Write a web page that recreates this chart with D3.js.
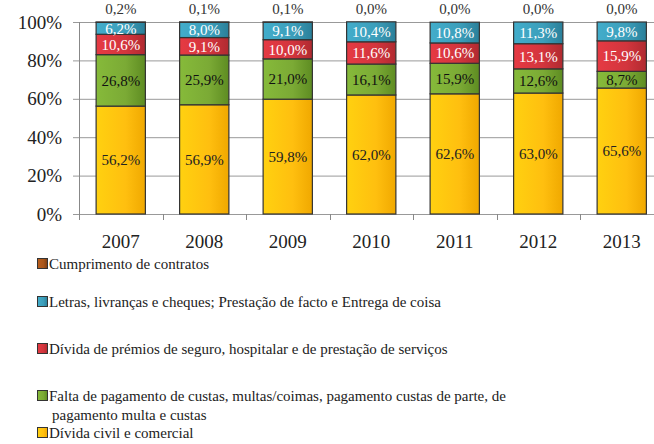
<!DOCTYPE html>
<html>
<head>
<meta charset="utf-8">
<script src="https://cdn.jsdelivr.net/npm/d3@7"></script>
<style>
  body { margin: 0; background: #fff; }
</style>
</head>
<body>
<div id="chart"></div>
<script>
// Stacked 100% bars: process types by year
const years = ["2007", "2008", "2009", "2010", "2011", "2012", "2013"];
const dividaCivil = [56.2, 56.9, 59.8, 62.0, 62.6, 63.0, 65.6];
const faltaPagamento = [26.8, 25.9, 21.0, 16.1, 15.9, 12.6, 8.7];
const dividaPremios = [10.6, 9.1, 10.0, 11.6, 10.6, 13.1, 15.9];
const letras = [6.2, 8.0, 9.1, 10.4, 10.8, 11.3, 9.8];
const cumprimento = [0.2, 0.1, 0.1, 0.0, 0.0, 0.0, 0.0];
const yTicks = [0, 20, 40, 60, 80, 100];

// legend lines (wrapped like the original), top to bottom
const legendLines = [
    ["Cumprimento de contratos"],
    ["Letras, livranças e cheques; Prestação de facto e Entrega de coisa"],
    ["Dívida de prémios de seguro, hospitalar e de prestação de serviços"],
    ["Falta de pagamento de custas,  multas/coimas, pagamento custas de parte, de", "pagamento multa e custas"],
    ["Dívida civil e comercial"]
];

function createChart() {
    const W = 654, H = 444;
    const margin = { top: 22, left: 79 };
    const plotH = 192;
    const bandW = 83.5;
    const FONT = "'Liberation Serif'";

    const svg = d3.select("#chart").append("svg")
        .attr("width", W)
        .attr("height", H)
        .style("font-family", FONT);

    const colors = ["#FFBF0F", "#7BAA35", "#D2353D", "#3C9EBA", "#A9561A"];
    const darker = ["#F0A800", "#5E8C22", "#B02A30", "#2A7F99", "#7E3D10"];
    const labelColors = ["#222", "#111", "#fff", "#fff", "#333"];

    // gradients for the bevelled look
    const defs = svg.append("defs");
    colors.forEach((c, i) => {
        const grad = defs.append("linearGradient")
            .attr("id", "grad" + i)
            .attr("x1", "0").attr("x2", "1").attr("y1", "0").attr("y2", "0");
        grad.append("stop").attr("offset", "0%").attr("stop-color", d3.color(c).brighter(0.25));
        grad.append("stop").attr("offset", "60%").attr("stop-color", c);
        grad.append("stop").attr("offset", "100%").attr("stop-color", darker[i]);
    });

    const g = svg.append("g")
        .attr("transform", `translate(${margin.left},${margin.top})`);

    const x = d3.scaleBand()
        .domain(years)
        .range([0, bandW * years.length])
        .paddingInner(0.41)
        .paddingOuter(0.205);

    const y = d3.scaleLinear()
        .domain([0, 100])
        .range([plotH, 0]);

    // gridlines
    g.append("g")
        .selectAll("line")
        .data(yTicks)
        .enter().append("line")
        .attr("x1", -6)
        .attr("x2", W - margin.left)
        .attr("y1", d => y(d) + 0.5)
        .attr("y2", d => y(d) + 0.5)
        .attr("stroke", "#999")
        .attr("stroke-width", 1);

    // y axis
    g.append("line")
        .attr("x1", 0.5).attr("x2", 0.5)
        .attr("y1", 0).attr("y2", plotH)
        .attr("stroke", "#888");

    g.selectAll(".ylab")
        .data(yTicks)
        .enter().append("text")
        .attr("class", "ylab")
        .attr("x", -17)
        .attr("y", d => y(d))
        .attr("dy", "0.35em")
        .attr("text-anchor", "end")
        .style("font-size", "19px")
        .style("fill", "#222")
        .text(d => d + "%");

    // x axis ticks (between categories)
    const tickPos = d3.range(years.length + 1).map(i => i * bandW);
    g.selectAll(".xtick")
        .data(tickPos)
        .enter().append("line")
        .attr("x1", d => Math.round(d) + 0.5)
        .attr("x2", d => Math.round(d) + 0.5)
        .attr("y1", plotH)
        .attr("y2", plotH + 6)
        .attr("stroke", "#888");

    g.selectAll(".xlab")
        .data(years)
        .enter().append("text")
        .attr("x", d => x(d) + x.bandwidth() / 2)
        .attr("y", plotH + 34)
        .attr("text-anchor", "middle")
        .style("font-size", "19px")
        .style("fill", "#222")
        .text(d => d);

    // stack
    const table = years.map((yr, i) => ({
        year: yr,
        s0: dividaCivil[i],
        s1: faltaPagamento[i],
        s2: dividaPremios[i],
        s3: letras[i],
        s4: cumprimento[i]
    }));
    const stack = d3.stack().keys(["s0", "s1", "s2", "s3", "s4"]);
    const layers = stack(table);

    const fmt = v => v.toFixed(1).replace(".", ",") + "%";

    layers.forEach((layer, li) => {
        g.selectAll(".bar" + li)
            .data(layer)
            .enter().append("rect")
            .attr("x", d => x(d.data.year))
            .attr("width", x.bandwidth())
            .attr("y", d => y(d[1]))
            .attr("height", d => Math.max(0, y(d[0]) - y(d[1])))
            .attr("fill", `url(#grad${li})`)
            .attr("stroke", "#333")
            .attr("stroke-width", 1.2);

        const labels = g.selectAll(".lab" + li)
            .data(layer)
            .enter().append("text")
            .attr("x", d => x(d.data.year) + x.bandwidth() / 2)
            .attr("text-anchor", "middle")
            .style("font-size", "15px")
            .text(d => fmt(d[1] - d[0]));

        if (li < 4) {
            labels
                .attr("y", d => (y(d[0]) + y(d[1])) / 2)
                .attr("dy", "0.35em")
                .style("fill", labelColors[li]);
        } else {
            labels
                .attr("y", y(100) - 8)
                .style("fill", "#333");
        }
    });

    // legend
    const legendY = [264, 302, 349, 396, 433];
    const legendColorIdx = [4, 3, 2, 1, 0];
    const legend = svg.append("g");
    legendLines.forEach((lines, i) => {
        const ci = legendColorIdx[i];
        legend.append("rect")
            .attr("x", 37.5)
            .attr("y", legendY[i] - 5.5)
            .attr("width", 10)
            .attr("height", 10)
            .attr("fill", `url(#grad${ci})`)
            .attr("stroke", "#333")
            .attr("stroke-width", 1);
        lines.forEach((ln, j) => {
            legend.append("text")
                .attr("x", j === 0 ? 49 : 52)
                .attr("y", legendY[i] + j * 19)
                .attr("dy", "0.35em")
                .style("font-size", "15px")
                .style("fill", "#222")
                .text(ln);
        });
    });
}

createChart();
</script>
</body>
</html>
